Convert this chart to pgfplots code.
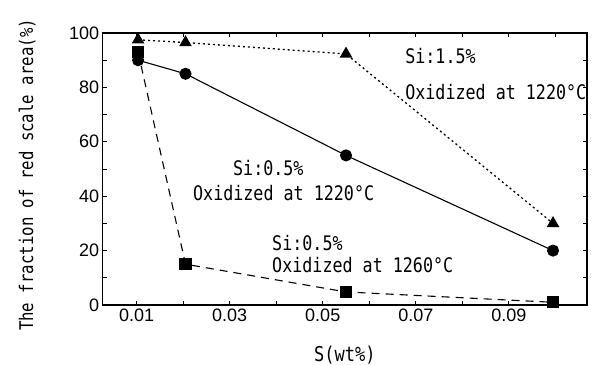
\documentclass[border=0pt]{standalone}
\usepackage{fontspec}
\setmainfont{Liberation Sans}
\newfontfamily\gothic{DejaVu Sans Mono}
\usepackage{graphicx}
\usepackage{pgfplots}
\pgfplotsset{compat=1.18}
\newcommand\gt[1]{\scalebox{1}[1.2]{\gothic #1}}
\begin{document}
\begin{tikzpicture}
\path[use as bounding box] (-102.7bp,-60bp) rectangle (499.3bp,305bp);
\begin{axis}[at={(0,0)}, anchor=south west, scale only axis,
  width=484.3bp, height=272bp,
  xmin=0.0027, xmax=0.1068, ymin=0, ymax=100,
  xtick={0.01,0.02,0.03,0.04,0.05,0.06,0.07,0.08,0.09,0.10},
  xticklabels={0.01,,0.03,,0.05,,0.07,,0.09,},
  ytick={0,10,20,30,40,50,60,70,80,90,100},
  yticklabels={0,,20,,40,,60,,80,,100},
  tick align=inside, major tick length=4bp,
  tick style={black, line width=0.8bp},
  axis line style={line width=1.1bp},
  ticklabel style={font=\fontsize{18bp}{20bp}\selectfont},
  xlabel={\gt{\fontsize{17bp}{20bp}\selectfont S(wt\%)}},
  ylabel={\gt{\fontsize{15.7bp}{18bp}\selectfont The fraction of red scale area(\%)}},
  xlabel style={at={(axis description cs:0.5,-0.184)}, anchor=center},
  ylabel style={at={(axis description cs:-0.156,0.478)}, anchor=center},
  clip=false]
\addplot[black, line width=1.3bp, dash pattern=on 2bp off 3bp, mark=triangle*, mark size=6bp, mark options={solid}]
  coordinates {(0.0103,97.5) (0.0205,96.5) (0.055,92.3) (0.0995,30)};
\addplot[black, line width=1.1bp, mark=*, mark size=5.5bp]
  coordinates {(0.0103,90) (0.0205,85) (0.055,55) (0.0995,20)};
\addplot[black, line width=1.1bp, dash pattern=on 8bp off 6bp, mark=square*, mark size=5.5bp, mark options={solid}]
  coordinates {(0.0103,93) (0.0205,15) (0.055,4.8) (0.0995,1)};
\node[anchor=west, inner sep=0pt] at (axis cs:0.0677,91.5) {\gt{\fontsize{16.7bp}{20bp}\selectfont Si:1.5\%}};
\node[anchor=west, inner sep=0pt] at (axis cs:0.0677,78.3) {\gt{\fontsize{16.7bp}{20bp}\selectfont Oxidized at 1220°C}};
\node[anchor=west, inner sep=0pt] at (axis cs:0.0307,50.4) {\gt{\fontsize{16.7bp}{20bp}\selectfont Si:0.5\%}};
\node[anchor=west, inner sep=0pt] at (axis cs:0.0221,41.2) {\gt{\fontsize{16.7bp}{20bp}\selectfont Oxidized at 1220°C}};
\node[anchor=west, inner sep=0pt] at (axis cs:0.0391,22.8) {\gt{\fontsize{16.7bp}{20bp}\selectfont Si:0.5\%}};
\node[anchor=west, inner sep=0pt] at (axis cs:0.0391,14.7) {\gt{\fontsize{16.7bp}{20bp}\selectfont Oxidized at 1260°C}};
\end{axis}
\end{tikzpicture}
\end{document}
